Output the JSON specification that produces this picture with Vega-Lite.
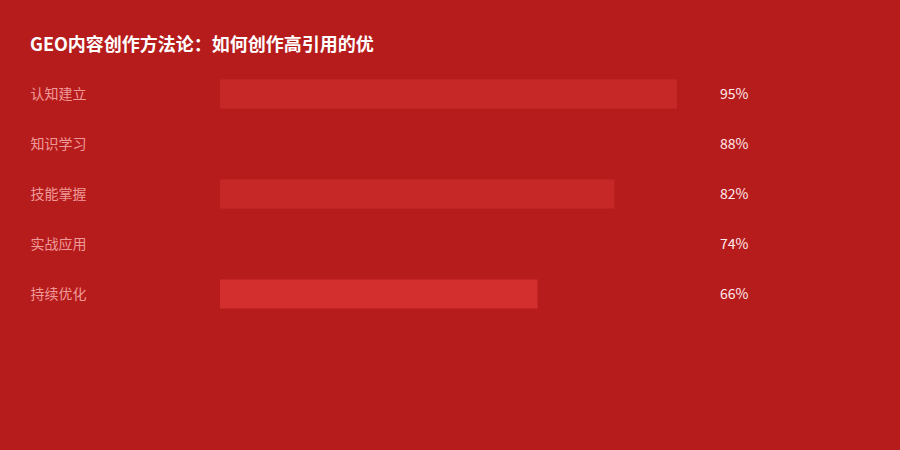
{
  "$schema": "https://vega.github.io/schema/vega-lite/v6.json",
  "autosize": "none",
  "width": 481,
  "height": 250,
  "padding": {"left": 220, "top": 69, "right": 199, "bottom": 131},
  "background": "#b71c1c",
  "title": {
    "text": "GEO内容创作方法论：如何创作高引用的优",
    "anchor": "start",
    "frame": "group",
    "dx": -190,
    "offset": 14,
    "font": "Noto Sans CJK SC",
    "fontSize": 18,
    "fontWeight": "bold",
    "color": "#ffffff"
  },
  "data": {
    "values": [
      {"stage": "认知建立", "share": 0.95},
      {"stage": "知识学习", "share": 0.88},
      {"stage": "技能掌握", "share": 0.82},
      {"stage": "实战应用", "share": 0.74},
      {"stage": "持续优化", "share": 0.66}
    ]
  },
  "encoding": {
    "y": {
      "field": "stage",
      "type": "nominal",
      "sort": null,
      "title": null,
      "scale": {"paddingInner": 0.42, "paddingOuter": 0.21},
      "axis": {
        "domain": false,
        "ticks": false,
        "labelAlign": "left",
        "labelPadding": 190,
        "labelOffset": 1,
        "labelFont": "Noto Sans CJK SC",
        "labelFontSize": 14,
        "labelColor": "#ef9a9a"
      }
    }
  },
  "layer": [
    {
      "mark": {"type": "bar"},
      "encoding": {
        "x": {
          "field": "share",
          "type": "quantitative",
          "scale": {"domain": [0, 1]},
          "axis": null
        },
        "color": {
          "field": "stage",
          "type": "nominal",
          "legend": null,
          "scale": {
            "domain": ["认知建立", "知识学习", "技能掌握", "实战应用", "持续优化"],
            "range": ["#c62828", "#b71c1c", "#c62828", "#b71c1c", "#d32f2f"]
          }
        }
      }
    },
    {
      "mark": {
        "type": "text",
        "align": "left",
        "dx": 19,
        "dy": 1,
        "font": "Noto Sans CJK SC",
        "fontSize": 14,
        "color": "#ffebee"
      },
      "encoding": {
        "x": {"datum": 1, "type": "quantitative"},
        "text": {"field": "share", "type": "quantitative", "format": ".0%"}
      }
    }
  ],
  "config": {"view": {"stroke": null}}
}
